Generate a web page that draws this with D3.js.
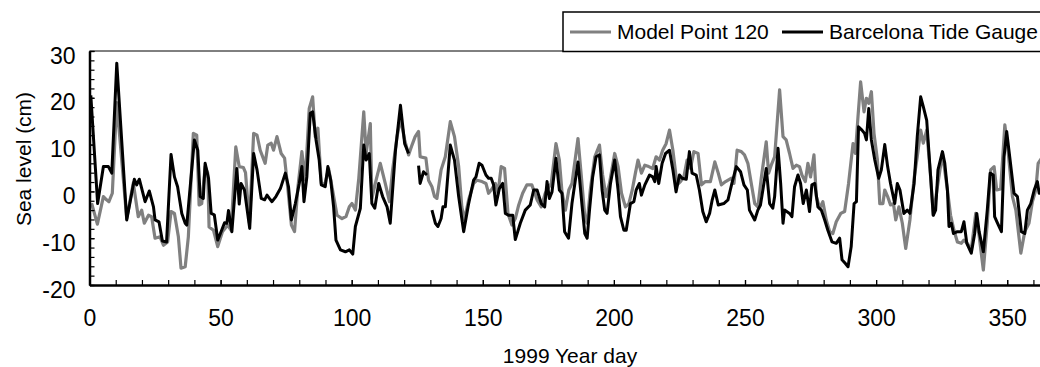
<!DOCTYPE html>
<html>
<head>
<meta charset="utf-8">
<script src="https://cdn.jsdelivr.net/npm/d3@7"></script>
<style>
  body { margin: 0; background: #fff; }
  svg { display: block; font-family: Arial, "Liberation Sans", sans-serif; }
</style>
</head>
<body>
<svg id="chart"></svg>
<script>
// values (day of year, sea level in cm)
const modelDays = [0.8,3,5.3,6.5,7.4,8.7,10.4,14.2,16.7,18.6,19.9,20.9,22.5,23.7,25,26.9,28.2,29.8,31.1,32.4,33.9,34.9,36.5,37.7,39.6,40.9,41.8,42.8,44.1,45.1,45.6,47.3,48.9,50.7,52.7,54,55.8,57.1,58.7,59.5,61,62.6,63.9,65.1,67,68,69.3,70.2,71.5,73.1,74.4,75.7,77,78.2,79.5,81,82.3,83.8,85.1,86.1,87.1,88.4,89.7,91.2,92.7,94.4,96.3,97.8,99.1,100.1,101.4,102.7,104.6,105.5,107.1,107.7,109.3,110.9,112.8,114.4,115.6,117.3,118.6,120.2,121.7,123,124.2,125.5,126.1,128.3,129.3,130.6,131.6,132.5,134.1,135.7,137.6,139.2,140.8,142,143,144.6,146.5,147.8,149.7,151.2,152.2,153.2,154.8,155.8,157,158.3,159.6,161.1,162.4,163.7,165.2,166.8,168.7,170.7,172.3,173.8,176.1,177.9,179.2,180.2,181.5,182.8,184,186.3,187.6,188.9,189.8,191,192.7,194.5,195.7,197,198.3,200.3,201.6,202.9,204.4,205.7,207,208.2,209.2,210.5,211.8,213.3,214.8,216.1,217.4,218.6,219.9,221.2,222.5,224.1,225.4,226.7,227.9,229.2,230.5,232.1,233.4,234.9,236.8,238.5,239.8,241,242.6,244.7,245.8,247,248.6,249.8,251.1,252.4,253.7,254.9,256.2,258.1,259,260,261.3,263.2,264.5,265.7,267,268.3,269.6,270.8,271.7,273,274,275,276.3,277.2,278.5,279.7,281,282.3,283.5,284.8,286.5,288,289.5,291.2,292.1,293.1,294.1,295.4,296.3,297.2,298.2,299.2,300.5,301.4,302.6,303.3,304.4,305.5,306.6,307.5,308.7,310,311.3,312.9,314.5,315.7,317,318,319.3,320.8,321.8,323.2,325.3,327.2,328.4,329.7,331,332.5,333.5,334.8,336.3,338,339.3,340.9,342.4,343.7,345,346,347.5,349.1,350.3,352,353.3,355.2,356.7,358.3,359.6,360.9,361.8,363];
const modelLevels = [-2.5,-7,-1.1,-1.8,-2.2,-0.4,19,-5.8,1.8,-5.4,-4,-6.8,-5.1,-5.4,-10,-9.7,-11.5,-10.8,-4.3,-4.7,-9.7,-16.4,-16.1,-9.7,12.4,12,-2.9,-2.6,5.3,3.9,-7.6,-8.3,-11.8,-8.6,-7.2,-8.3,9.5,5.3,5.1,4,-6.8,12.4,12,8.8,6,9.9,10.3,8.8,11.7,8.1,7.1,0.3,-7.2,-8.6,1,8.5,2.4,17.7,20.2,11.7,13.5,1.7,1.4,4.9,0.3,-5.1,-5.8,-5.4,-3.3,-2.6,-4,2.8,17,8.1,14.5,-1.5,2.4,6,1.7,-2.2,4.6,11.7,15.6,11,7.8,9.9,11.7,12.8,7.4,7.1,2.4,1,-1.1,-1.5,4.6,7.4,14.9,11.7,5.3,-3.3,-6.1,-1.8,1.7,2.4,2.1,1.7,-0.4,0.3,1.7,-0.4,5.3,4.9,-4.7,-7.2,-5.8,-2.9,-0.4,1.4,1.4,-1.8,-3.3,-0.4,1.7,10.2,6.7,-0.1,-4,0.3,1.7,11.3,3.1,-5.4,-6.8,0.3,7.4,9.9,3.5,-1.1,1.7,8.1,5.3,-0.4,-3.3,-2.6,0.3,3.9,6.7,3.9,5.6,5.3,4.9,7.4,6.7,8.8,10.2,13.1,8.8,1.4,2.1,3.1,6.7,4.9,8.5,8.1,1.4,2.1,2.1,6.3,3.9,1.4,2.1,2.8,1.7,8.8,8.5,7.8,6,1.7,-2.6,-3.3,2.8,10.6,3.9,5.6,7.4,21.7,11.7,11,8.1,4.9,5.6,5.3,3.5,2.1,6,3.1,7.8,-1.1,-3.6,-2.2,-6.1,-8.6,-9,-6.5,-4.7,-4.3,1.7,10.2,8.1,16,23.4,17,19.9,18.8,21.3,12.4,6.7,-2.6,-2.6,0.3,-1.1,-2.9,-2.6,-6.1,-3.3,-6.8,-12.2,-6.1,2.8,7.4,13.1,10.3,13.1,3.1,-5.1,0.3,8.1,0.3,-5.1,-8.3,-10.8,-11.1,-10.4,-11.1,-12.5,-4.7,-9.5,-16.8,-6.8,4.6,5.3,0.3,0.5,14.2,8.8,-1.1,-4,-13.2,-8.6,-6.8,-2.2,0.3,6,7];

const gaugeDays = [0.5,3.1,5.3,7.2,8.5,10.4,14.2,17.1,18,19,21.2,22.8,24.4,25,26.5,27.8,29.4,31.1,32.4,33.6,35.2,36.5,37.1,40,41.3,42.2,43.4,44.1,45.4,46.4,47.6,48.9,50.4,51.5,52.4,53,54.3,56.2,57.1,57.8,59.1,61.1,62.6,63.9,65.5,66.8,67.7,68.6,69.6,71.1,72.8,74.7,75.9,77,78.5,80,81,81.8,82.9,84.2,85.1,86.4,87.6,88.4,89.9,90.9,92,93.1,94,95.7,97.6,99.1,100.4,101.4,103.3,104.6,105.5,106.7,107.7,108.8,110.3,111.8,113.5,114.7,116.7,118.6,120.2,121.7,123.5,125.5,126.1,127.4,128.7,129.6,130.6,131.9,132.9,134.1,134.8,135.7,137.6,139.2,140.8,142.7,144.6,146.5,147.4,148.6,149.7,151.2,152.2,153.2,154.1,155,156.3,157.6,158.6,159.8,161.4,162.4,164.3,166.2,168.1,169.4,170.7,172.3,173.6,174.5,175.4,176.4,177.9,179.2,180.2,181.2,182.7,184,186.3,187.9,188.9,189.8,190.7,191.9,193.2,194.5,195.5,196.5,197.4,198.7,200.3,201.6,202.5,203.8,204.7,206.3,207.6,208.5,209.7,210.5,211.8,213.6,214.8,215.6,216.1,217.1,218.4,219.7,221.2,222.5,223.7,225,226,227.6,228.8,229.8,231.4,232.6,233.9,235.2,236.5,237.5,238.5,239.8,241.9,243.5,245,246.7,248.3,249.6,250.9,251.7,253.7,254.9,255.9,258.1,259.4,260.6,261.3,262.6,263.6,264.5,265.1,267,267.9,268.9,270.2,271.2,272.2,273.4,274.6,275.5,276.6,277.8,279.1,280.4,281.6,283.2,284.8,286.1,287,288.3,289.3,290.5,291.6,292.5,293.3,294.6,295.6,296.3,297.2,298.2,299.5,301,302,303.3,304.4,305.5,307.1,308.1,309.1,310.6,311.9,312.9,314.5,315.7,317,318,319.3,320.8,321.8,322.7,323.6,325.3,326.2,327.2,327.8,328.7,329.5,331,332.5,333.5,334.6,336.3,337.6,338.4,339.3,340.9,342.4,343.5,344.7,345.2,346.3,347.8,348.8,349.8,351.1,352.6,353.9,355.4,356.7,357.7,359,360.3,361.5,362.2,363.5];
const gaugeLevels = [20.5,-2.6,5.3,5.3,3.9,27.4,-6.1,2.6,1.4,2.6,-2.2,0.1,-3.3,-6.1,-6.5,-10.6,-10.8,7.9,3.1,1,-4.7,-6.8,-7.2,11,8.8,-1.1,-1.5,6,2.8,-4.7,-5,-10.4,-8.3,-6.7,-6.8,-4.1,-8.6,4.9,-2.7,1.7,0.3,-7.9,8.1,4.6,-1.5,-1.8,-0.8,-1.5,-2.2,-1.1,0.6,3.9,1,-6.1,-2.6,1.7,5.3,-2.2,3.1,16.7,17,11,6.7,1.4,1,5.3,2.4,-3.3,-10.4,-12.5,-12.9,-12.5,-13.4,-7.5,-3.6,9.9,6.7,8.1,-2.6,-3.6,1.7,-1.1,-3.3,-6.8,8.8,18.4,10.2,8.1,null,5.5,1.7,4.2,3.5,null,-4,-6.8,-7.5,-5.8,-3.3,-3.3,9.9,6.7,-1.1,-8.6,-2.6,2.4,3.1,6,5.6,3.5,2.8,2.8,1.4,-2.9,0.6,1.7,-4.7,-5.1,-5.1,-10.3,-6.8,-4,-2.9,0.3,0.3,-2.6,-3.3,2.1,-1.5,-0.1,7.1,0.3,-0.4,-8.6,-10,-2.6,6.3,-3.3,-9,-10,-4,3.1,7.4,7.8,0.3,-4,-4.7,1.7,6.7,0.3,-5.4,-8.3,-8.3,-2.6,-2.2,0.3,1.7,-0.8,1.4,3.5,3.1,2.1,5.3,1.7,6,8.1,8.8,4.6,-0.1,3.5,2.8,2.6,8.5,3.9,3.5,0.3,-4.3,-6.5,-4.7,-1.8,0.3,-2.9,-2.6,-1.8,1.7,5.3,4.2,1.4,0.3,-4,-6.1,-4,-2.9,4.9,-2.6,-3.6,-1.1,9.2,1.7,-6.8,-4,-4.7,-5.4,1,3.5,1.7,-2.6,0.3,-4.3,1.4,1.7,-3.3,-4,-6.1,-8.3,-10.8,-11.1,-10,-14.6,-15.4,-16.1,-11.8,-2.6,-2.2,13.8,13.1,12.4,11,17.7,11,6.7,2.8,4.6,10,5.3,1.7,-2.6,1.7,0.3,-4.7,-4,-4.7,1.7,11.7,20.2,18.1,15.2,3.1,-5.1,-4,4.6,8.5,6,0.3,-7.5,-6.8,-9,-8.6,-8.6,-6.5,-11.1,-13.2,-9,-4.7,-8.6,-12.9,-4,3.9,3.5,-5.4,-6.8,-8.6,7.4,12.8,6.7,-0.4,-1.1,-8.6,-9,-4,-2.6,0.3,2.1,-0.4,1];

const seriesNames = ['Model Point 120', 'Barcelona Tide Gauge'];
const yTicks = [-20, -10, 0, 10, 20, 30];
const xTicks = [0, 50, 100, 150, 200, 250, 300, 350];

const width = 1040, height = 367;
const plotLeft = 89.5, plotTop = 51, plotBottom = 285;

const svg = d3.select('#chart')
    .attr('width', width)
    .attr('height', height);

svg.append('rect').attr('width', width).attr('height', height).attr('fill', '#fff');

const x = d3.scaleLinear().domain([0, 365]).range([plotLeft, plotLeft + 365 * 2.622]);
const y = d3.scaleLinear().domain([-20, 30]).range([plotBottom, plotTop]);

// plot frame top edge
svg.append('line')
    .attr('x1', plotLeft).attr('x2', width)
    .attr('y1', plotTop).attr('y2', plotTop)
    .attr('stroke', '#000').attr('stroke-width', 1);

// series
const line = d3.line()
    .defined(d => d[1] != null)
    .x(d => x(d[0]))
    .y(d => y(d[1]));

const model = modelDays.map((d, i) => [d, modelLevels[i]]);
const gauge = gaugeDays.map((d, i) => [d, gaugeLevels[i]]);

svg.append('path')
    .datum(model)
    .attr('d', line)
    .attr('fill', 'none')
    .attr('stroke', '#808080')
    .attr('stroke-width', 3.2)
    .attr('stroke-linejoin', 'round');

svg.append('path')
    .datum(gauge)
    .attr('d', line)
    .attr('fill', 'none')
    .attr('stroke', '#000')
    .attr('stroke-width', 3)
    .attr('stroke-linejoin', 'round');

// y axis, ticks inside
const yMinor = svg.append('g')
    .attr('transform', `translate(${plotLeft},0)`)
    .call(d3.axisLeft(y).tickValues(d3.range(-20, 31, 2)).tickSize(-5).tickFormat(''));
yMinor.select('.domain').remove();

const yAxis = svg.append('g')
    .attr('transform', `translate(${plotLeft},0)`)
    .call(d3.axisLeft(y).tickValues(yTicks).tickSize(-5).tickSizeOuter(0)
        .tickPadding(14).tickFormat(d => String(d)));
yAxis.select('.domain').attr('stroke-width', 2.5);
yAxis.selectAll('text')
    .attr('dy', '12')
    .style('font-size', '23px')
    .attr('fill', '#000');

// x axis, ticks inside
const xMinor = svg.append('g')
    .attr('transform', `translate(0,${plotBottom})`)
    .call(d3.axisBottom(x).tickValues(d3.range(10, 365, 10)).tickSize(-5).tickFormat(''));
xMinor.select('.domain').remove();

const xAxis = svg.append('g')
    .attr('transform', `translate(0,${plotBottom})`)
    .call(d3.axisBottom(x).tickValues(xTicks).tickSize(-5).tickSizeOuter(0)
        .tickPadding(25).tickFormat(d => String(d)));
xAxis.select('.domain').attr('stroke-width', 2.5);
xAxis.selectAll('text')
    .style('font-size', '23px')
    .attr('fill', '#000');

svg.selectAll('.tick line').attr('stroke', '#000').attr('stroke-width', 1.2);

// axis titles
svg.append('text')
    .attr('x', 570)
    .attr('y', 363)
    .attr('text-anchor', 'middle')
    .style('font-size', '21px')
    .text('1999 Year day');

svg.append('text')
    .attr('transform', 'translate(31,159) rotate(-90)')
    .attr('text-anchor', 'middle')
    .style('font-size', '21px')
    .text('Sea level (cm)');

// legend
const legend = svg.append('g');
legend.append('rect')
    .attr('x', 563).attr('y', 12)
    .attr('width', 520).attr('height', 39.5)
    .attr('fill', '#fff')
    .attr('stroke', '#000')
    .attr('stroke-width', 1.5);

const legendX = [570, 782];
const legendColor = ['#808080', '#000'];
seriesNames.forEach((name, i) => {
    legend.append('line')
        .attr('x1', legendX[i]).attr('x2', legendX[i] + 41)
        .attr('y1', 32).attr('y2', 32)
        .attr('stroke', legendColor[i])
        .attr('stroke-width', 3);
    legend.append('text')
        .attr('x', legendX[i] + 47)
        .attr('y', 38.5)
        .style('font-size', '21px')
        .text(name);
});
</script>
</body>
</html>
